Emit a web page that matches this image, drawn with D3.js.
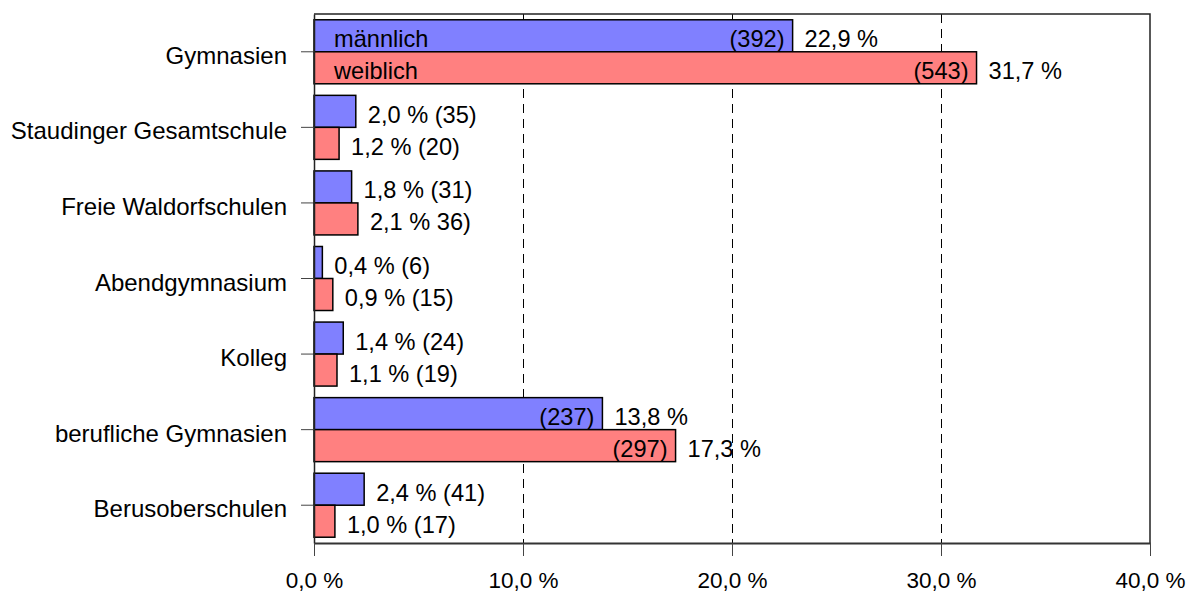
<!DOCTYPE html>
<html>
<head>
<meta charset="utf-8">
<script src="https://cdn.jsdelivr.net/npm/d3@7"></script>
<style>
  html, body { margin: 0; padding: 0; background: #fff; }
  svg { display: block; font-family: "Liberation Sans", Arial, sans-serif; }
</style>
</head>
<body>
<svg width="1190" height="592"></svg>
<script>
const categories = ['Gymnasien', 'Staudinger Gesamtschule', 'Freie Waldorfschulen',
  'Abendgymnasium', 'Kolleg', 'berufliche Gymnasien', 'Berusoberschulen'];
const series = ['männlich', 'weiblich'];
const malePct = [22.9, 2.0, 1.8, 0.4, 1.4, 13.8, 2.4];
const femalePct = [31.7, 1.2, 2.1, 0.9, 1.1, 17.3, 1.0];
const maleCount = [392, 35, 31, 6, 24, 237, 41];
const femaleCount = [543, 20, 36, 15, 19, 297, 17];
// the source drops the opening bracket on this one label
const femaleNoOpenParen = [false, false, true, false, false, false, false];
const xTicks = [0, 10, 20, 30, 40];

const colors = {'männlich': '#8080ff', 'weiblich': '#ff8080'};

const svg = d3.select('svg'),
    margin = {top: 14, right: 40, bottom: 49, left: 314},
    width = 1190 - margin.left - margin.right,
    height = 592 - margin.top - margin.bottom;

const de = d3.formatLocale({decimal: ',', thousands: '.', grouping: [3], currency: ['', ' €']});
const fmt = de.format('.1f');

const x = d3.scaleLinear().domain([0, 40]).range([0, width]);
const y = d3.scaleBand().domain(categories).range([0, height])
    .paddingInner(0.153).paddingOuter(0.0765);
const ySub = d3.scaleBand().domain(series).range([0, y.bandwidth()]);

const g = svg.append('g')
    .attr('transform', 'translate(' + margin.left + ',' + margin.top + ')');

// dashed grid
g.append('g')
  .selectAll('line').data(xTicks.slice(1, -1)).enter().append('line')
    .attr('x1', d => Math.round(x(d)) + 0.5).attr('x2', d => Math.round(x(d)) + 0.5)
    .attr('y1', 0).attr('y2', height)
    .attr('stroke', '#000').attr('stroke-width', 1)
    .attr('stroke-dasharray', '9,6');

// frame top/right
g.append('path')
    .attr('d', 'M0,0H' + width + 'V' + height)
    .attr('fill', 'none').attr('stroke', '#222').attr('stroke-width', 1.5);

const rows = categories.map((c, i) => ({
  cat: c,
  bars: [
    {s: 'männlich', pct: malePct[i], n: maleCount[i], noOpen: false},
    {s: 'weiblich', pct: femalePct[i], n: femaleCount[i], noOpen: femaleNoOpenParen[i]}
  ]
}));

const row = g.selectAll('.row').data(rows).enter().append('g')
    .attr('transform', d => 'translate(0,' + y(d.cat) + ')');

const bar = row.selectAll('.bar').data(d => d.bars).enter().append('g');

bar.append('rect')
    .attr('x', 0)
    .attr('y', d => ySub(d.s))
    .attr('width', d => x(d.pct))
    .attr('height', ySub.bandwidth())
    .attr('fill', d => colors[d.s])
    .attr('stroke', '#000').attr('stroke-width', 1.5);

const countText = d => (d.noOpen ? '' : '(') + d.n + ')';
const baseY = d => ySub(d.s) + ySub.bandwidth() / 2 + 11.5;

bar.append('text')
    .attr('x', d => x(d.pct) + 12)
    .attr('y', baseY)
    .attr('font-size', 23.6)
    .text(d => d.pct > 10 ? fmt(d.pct) + ' %' : fmt(d.pct) + ' % ' + countText(d));

bar.filter(d => d.pct > 10).append('text')
    .attr('x', d => x(d.pct) - 8)
    .attr('y', baseY)
    .attr('text-anchor', 'end')
    .attr('font-size', 23.6)
    .text(countText);

// series names inside the first pair of bars
row.filter((d, i) => i === 0).selectAll('.name').data(series).enter().append('text')
    .attr('x', 20)
    .attr('y', d => ySub(d) + ySub.bandwidth() / 2 + 11.5)
    .attr('font-size', 23.6)
    .text(d => d);

// axes
const yAxis = g.append('g')
    .call(d3.axisLeft(y).tickSize(13).tickSizeOuter(0).tickPadding(14));
yAxis.select('.domain').attr('stroke', '#222').attr('stroke-width', 1.5);
yAxis.selectAll('.tick line').attr('stroke', '#444');
yAxis.selectAll('.tick text')
    .attr('font-size', 24).attr('fill', '#000')
    .attr('font-family', '"Liberation Sans", Arial, sans-serif')
    .attr('dy', 12);

const xAxis = g.append('g')
    .attr('transform', 'translate(0,' + height + ')')
    .call(d3.axisBottom(x).tickValues(xTicks).tickSize(13).tickSizeOuter(0).tickPadding(16)
      .tickFormat(d => fmt(d) + ' %'));
xAxis.select('.domain').attr('stroke', '#333').attr('stroke-width', 2);
xAxis.selectAll('.tick line').attr('stroke', '#444');
xAxis.selectAll('.tick text')
    .attr('font-size', 22.5).attr('fill', '#000')
    .attr('font-family', '"Liberation Sans", Arial, sans-serif');
</script>
</body>
</html>
